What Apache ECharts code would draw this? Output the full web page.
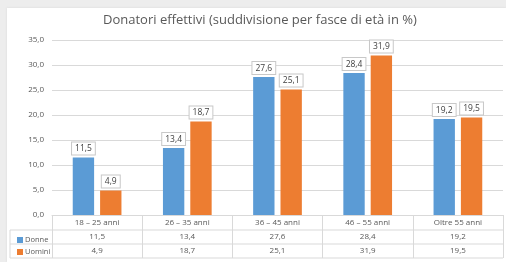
<!DOCTYPE html>
<html>
<head>
<meta charset="utf-8">
<script src="https://cdn.jsdelivr.net/npm/echarts@6/dist/echarts.min.js"></script>
<style>
  html, body { margin: 0; padding: 0; background: #ededed; }
  .card { position: absolute; left: 7px; top: 8px; width: 499px; height: 254px; background: #fff; box-shadow: 0 0 2px #d6d6d6; }
  #chart { position: absolute; left: 0; top: 0; width: 506px; height: 262px; }
</style>
</head>
<body>
<div class="card"></div>
<div id="chart"></div>
<script>
// fasce di età
const categories = ['18 – 25 anni', '26 – 35 anni', '36 – 45 anni', '46 – 55 anni', 'Oltre 55 anni'];
// valori in %
const donne = [11.5, 13.4, 27.6, 28.4, 19.2];
const uomini = [4.9, 18.7, 25.1, 31.9, 19.5];

const fmt = v => v.toFixed(1).replace('.', ',');
const FONT = '"Open Sans", "Liberation Sans", sans-serif';
const GREY = '#595959';
const LINE = '#d9d9d9';

const chart = echarts.init(document.getElementById('chart'), null, { renderer: 'canvas' });

const barLabel = {
  show: true,
  position: 'top',
  distance: 3,
  formatter: p => fmt(p.value),
  fontFamily: FONT,
  fontSize: 8.5,
  color: '#404040',
  backgroundColor: '#fff',
  borderColor: '#c8c8c8',
  borderWidth: 1,
  padding: [2, 3, 1, 3]
};

// linee orizzontali della tabella dati
const tableLine = y => ({
  type: 'line',
  shape: { x1: 10, y1: y, x2: 503, y2: y },
  style: { stroke: LINE, lineWidth: 1 }
});

const option = {
  animation: false,
  title: {
    text: 'Donatori effettivi (suddivisione per fasce di età in %)',
    left: 98,
    top: 9,
    textStyle: { fontFamily: FONT, fontSize: 13, fontWeight: 'normal', color: GREY }
  },
  legend: {
    orient: 'vertical',
    left: 12,
    top: 231,
    itemWidth: 6,
    itemHeight: 6,
    itemGap: 4,
    icon: 'rect',
    textStyle: { fontFamily: FONT, fontSize: 7.5, color: GREY, padding: [0, 0, 0, -3] },
    data: ['Donne', 'Uomini']
  },
  grid: { left: 52, right: 3, top: 40, bottom: 47 },
  xAxis: {
    type: 'category',
    data: categories,
    axisLine: { lineStyle: { color: LINE } },
    axisTick: { show: true, length: 43, lineStyle: { color: LINE } },
    axisLabel: {
      margin: 1,
      interval: 0,
      formatter: (value, idx) =>
        '{c|' + value + '}\n{v|' + fmt(donne[idx]) + '}\n{v|' + fmt(uomini[idx]) + '}',
      rich: {
        c: { fontFamily: FONT, fontSize: 8, color: GREY, lineHeight: 14 },
        v: { fontFamily: FONT, fontSize: 8, color: GREY, lineHeight: 14 }
      }
    }
  },
  yAxis: {
    type: 'value',
    min: 0,
    max: 35,
    interval: 5,
    axisLabel: { formatter: v => fmt(v), fontFamily: FONT, fontSize: 8, color: GREY, margin: 8 },
    splitLine: { lineStyle: { color: LINE } }
  },
  graphic: [
    tableLine(230),
    tableLine(244),
    tableLine(258),
    { type: 'line', shape: { x1: 10, y1: 230, x2: 10, y2: 258 }, style: { stroke: LINE, lineWidth: 1 } }
  ],
  series: [
    {
      name: 'Donne',
      type: 'bar',
      data: donne,
      barGap: '28%',
      barCategoryGap: '46%',
      itemStyle: { color: '#5b9bd5' },
      label: barLabel
    },
    {
      name: 'Uomini',
      type: 'bar',
      data: uomini,
      itemStyle: { color: '#ed7d31' },
      label: barLabel
    }
  ]
};

chart.setOption(option);
</script>
</body>
</html>
